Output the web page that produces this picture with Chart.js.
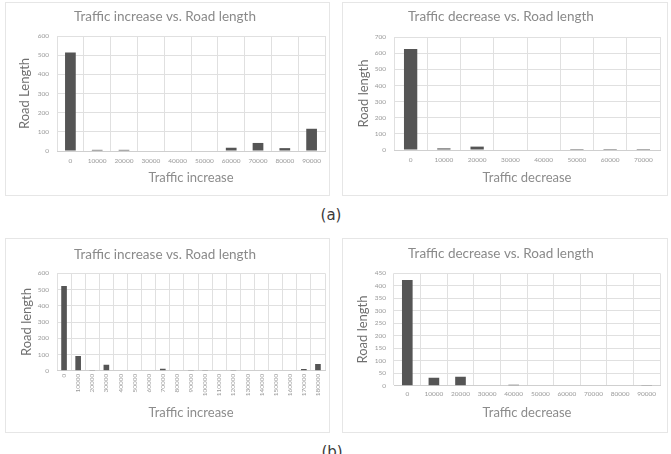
<!DOCTYPE html>
<html><head><meta charset="utf-8">
<script src="https://cdn.jsdelivr.net/npm/chart.js@4"></script>
<style>
html,body{margin:0;padding:0;background:#fff;width:671px;height:454px;overflow:hidden;position:relative;}
.box{position:absolute;border:1px solid #e6e6e6;box-sizing:border-box;}
canvas{position:absolute;}
.lab{position:absolute;font-family:'DejaVu Sans',sans-serif;font-size:15px;color:#3a3a3a;transform:translate(-50%,-50%);white-space:nowrap;}
</style></head><body>
<div class="box" style="left:5px;top:2px;width:325px;height:194px"></div>
<div class="box" style="left:342px;top:2px;width:326px;height:194px"></div>
<div class="box" style="left:5px;top:238px;width:325px;height:195px"></div>
<div class="box" style="left:342px;top:238px;width:326px;height:195px"></div>
<canvas id="c1"></canvas><canvas id="c2"></canvas><canvas id="c3"></canvas><canvas id="c4"></canvas>
<div class="lab" style="left:331px;top:215px">(a)</div>
<div class="lab" style="left:332px;top:452px">(b)</div>
<script>
// ---- data ----
const incA_labels = ['0','10000','20000','30000','40000','50000','60000','70000','80000','90000'];
const incA_values = [514, 6, 6, 0, 0, 0, 17, 42, 15, 116];
const decA_labels = ['0','10000','20000','30000','40000','50000','60000','70000'];
const decA_values = [626, 10, 21, 0, 0, 6, 6, 6];
const incB_labels = ['0','10000','20000','30000','40000','50000','60000','70000','80000','90000','100000','110000','120000','130000','140000','150000','160000','170000','180000'];
const incB_values = [522, 90, 5, 37, 0, 0, 0, 12, 0, 5, 5, 0, 5, 0, 0, 0, 0, 10, 41];
const decB_labels = ['0','10000','20000','30000','40000','50000','60000','70000','80000','90000'];
const decB_values = [423, 32, 36, 0, 4, 0, 0, 0, 0, 3];
const incA_yMax = 600, incA_yStep = 100;
const decA_yMax = 700, decA_yStep = 100;
const incB_yMax = 600, incB_yStep = 100;
const decB_yMax = 450, decB_yStep = 50;
const incA_title = 'Traffic increase vs. Road length', incA_x = 'Traffic increase', incA_y = 'Road Length';
const decA_title = 'Traffic decrease vs. Road length', decA_x = 'Traffic decrease', decA_y = 'Road length';
const incB_title = 'Traffic increase vs. Road length', incB_x = 'Traffic increase', incB_y = 'Road length';
const decB_title = 'Traffic decrease vs. Road length', decB_x = 'Traffic decrease', decB_y = 'Road length';

const FONT = 'Lato, "Open Sans", sans-serif';
const GRID = '#e0e0e0';

function makeChart(id, g, labels, values, yMax, yStep, title, xTitle, yTitle, rotate) {
  const cv = document.getElementById(id);
  cv.width = g.w; cv.height = g.h;
  cv.style.left = g.x + 'px'; cv.style.top = g.y + 'px';
  cv.style.width = g.w + 'px'; cv.style.height = g.h + 'px';
  const tFs = 13.5, tLh = tFs * 1.2;
  const xFs = 13, xLh = xFs * 1.2;
  const yFs = 13, yLh = yFs * 1.2;
  const tickFs = 6.5;
  const plotTop = g.plotTop - g.y, plotBottom = g.plotBottom - g.y;
  const plotLeft = g.plotLeft - g.x, plotRight = g.plotRight - g.x;
  const tTop = (g.titleY - g.y) - tLh / 2;
  const tBot = plotTop - tTop - tLh;
  const xAxisH = g.h - plotBottom;
  const xTitlePadB = g.h - (g.xTitleY - g.y) - xLh / 2;
  const yTitlePadT = (g.yTitleX - g.x) - yLh / 2;
  return new Chart(cv, {
    type: 'bar',
    data: { labels: labels, datasets: [{ data: values, backgroundColor: '#555555', borderWidth: 0, barPercentage: 0.4, categoryPercentage: 1 }] },
    options: {
      responsive: false, animation: false, devicePixelRatio: 1,
      layout: { padding: { left: 0, top: 0, bottom: 0, right: g.w - plotRight } },
      plugins: {
        legend: { display: false }, tooltip: { enabled: false },
        title: { display: true, text: title, color: '#8a8a8a', font: { family: FONT, size: tFs, weight: 'normal' }, padding: { top: tTop, bottom: tBot } }
      },
      scales: {
        x: {
          grid: { color: GRID, drawTicks: false, offset: true },
          border: { color: '#cfcfcf' },
          ticks: { color: '#9a9a9a', font: { family: FONT, size: tickFs }, padding: g.xTickPad, autoSkip: false, minRotation: rotate ? 90 : 0, maxRotation: rotate ? 90 : 0 },
          title: { display: true, text: xTitle, color: '#8c8c8c', font: { family: FONT, size: xFs }, padding: { top: 0, bottom: xTitlePadB } },
          afterFit: s => { s.height = xAxisH; }
        },
        y: {
          min: 0, max: yMax,
          grid: { color: GRID, drawTicks: false },
          border: { display: false },
          ticks: { stepSize: yStep, color: '#9a9a9a', font: { family: FONT, size: tickFs }, padding: 8 },
          title: { display: true, text: yTitle, color: '#707070', font: { family: FONT, size: yFs }, padding: { top: yTitlePadT, bottom: 0 } },
          afterFit: s => { s.width = plotLeft; }
        }
      }
    }
  });
}

makeChart('c1', { x: 5, y: 2, w: 325, h: 194, plotLeft: 57, plotRight: 325, plotTop: 36, plotBottom: 151, titleY: 16.7, xTitleY: 178.3, yTitleX: 25, xTickPad: 6.5 },
  incA_labels, incA_values, incA_yMax, incA_yStep, incA_title, incA_x, incA_y, false);
makeChart('c2', { x: 342, y: 2, w: 326, h: 194, plotLeft: 394, plotRight: 660, plotTop: 37, plotBottom: 150, titleY: 16.7, xTitleY: 178, yTitleX: 364, xTickPad: 6 },
  decA_labels, decA_values, decA_yMax, decA_yStep, decA_title, decA_x, decA_y, false);
makeChart('c3', { x: 5, y: 238, w: 325, h: 195, plotLeft: 57, plotRight: 325, plotTop: 273.3, plotBottom: 370.7, titleY: 255, xTitleY: 413.3, yTitleX: 26.7, xTickPad: 3 },
  incB_labels, incB_values, incB_yMax, incB_yStep, incB_title, incB_x, incB_y, true);
makeChart('c4', { x: 342, y: 238, w: 326, h: 195, plotLeft: 394, plotRight: 660, plotTop: 273.3, plotBottom: 385.7, titleY: 254, xTitleY: 413.3, yTitleX: 363, xTickPad: 4.5 },
  decB_labels, decB_values, decB_yMax, decB_yStep, decB_title, decB_x, decB_y, false);
</script>
</body></html>
